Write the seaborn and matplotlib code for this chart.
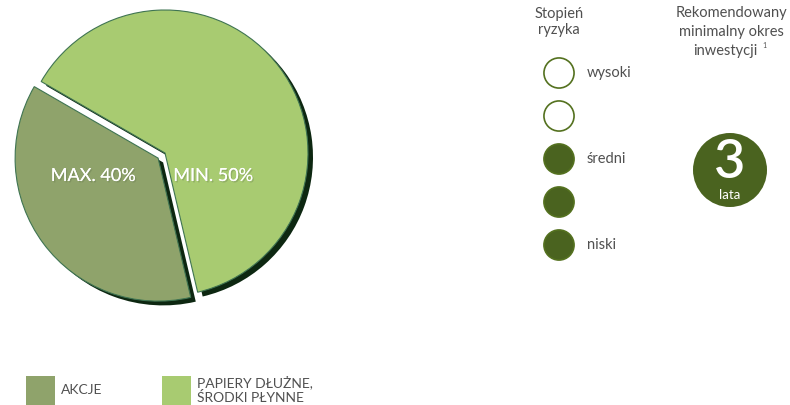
# Struktura portfela: udział akcji i papierów dłużnych + stopień ryzyka
import matplotlib
matplotlib.use('Agg')
import matplotlib.pyplot as plt
import matplotlib.patheffects as pe
import seaborn as sns
import pandas as pd

# Dane
share_names = ['AKCJE', 'PAPIERY DŁUŻNE,\nŚRODKI PŁYNNE']
share_values = [37, 63]
share_labels = ['MAX. 40%', 'MIN. 50%']
share_colors = ['#8fa36b', '#a8cb71']

risk_level = [5, 4, 3, 2, 1]
risk_filled = [False, False, True, True, True]
risk_names = ['wysoki', '', 'średni', '', 'niski']

horizon_years = 3
horizon_unit = 'lata'

sns.set_theme(style='white')
plt.rcParams['font.family'] = ['Lato', 'DejaVu Sans']
TXT = '#505050'
GREEN = '#4a631f'

W, H = 790, 405
fig = plt.figure(figsize=(W / 100, H / 100), dpi=100)
fig.patch.set_facecolor('white')

def px_axes(x0, y0, x1, y1):
    # axes z pikselowego prostokąta (y od góry)
    return fig.add_axes([x0 / W, 1 - y1 / H, (x1 - x0) / W, (y1 - y0) / H])

# pie
pax = px_axes(0, 0, 330, 320)
cx, cy, r = 165, 153, 143
pax.pie(share_values, colors=['#0d2711', '#0d2711'], startangle=150,
        explode=[0.06, 0], center=(0.035, -0.03),
        wedgeprops=dict(linewidth=0))
pax.pie(share_values, colors=share_colors, startangle=150,
        explode=[0.06, 0], wedgeprops=dict(linewidth=0.8, edgecolor='#3f7452'))
pax.set_xlim((0 - cx) / r, (330 - cx) / r)
pax.set_ylim((cy - 320) / r, (cy - 0) / r)
pax.set_aspect('auto')
pax.axis('off')

# nakładka w pikselach
ax = px_axes(0, 0, W, H)
ax.set_xlim(0, W)
ax.set_ylim(H, 0)
ax.axis('off')
ax.set_zorder(5)

shadow = [pe.withSimplePatchShadow(offset=(1, -1), shadow_rgbFace='#5a6b48', alpha=0.3), pe.Normal()]
for lab, x in zip(share_labels, [93, 213]):
    ax.text(x, 176, lab, color='white', fontsize=13, ha='center', va='center',
            path_effects=shadow)

# legenda
for name, col, x in zip(share_names, share_colors, [26, 162]):
    ax.add_patch(plt.Rectangle((x, 376), 29, 30, color=col, lw=0))
    ax.text(x + 35, 390, name, color=TXT, fontsize=10, ha='left', va='center',
            linespacing=1.15)

# stopień ryzyka
ax.text(559, 22, 'Stopień\nryzyka', color=TXT, fontsize=10.5, ha='center', va='center',
        linespacing=1.25)
rax = px_axes(530, 51.5, 650, 266.5)
risk_df = pd.DataFrame({'x': 29, 'level': risk_level, 'filled': risk_filled})
sns.scatterplot(data=risk_df, x='x', y='level', hue='filled',
                palette={True: GREEN, False: 'white'}, s=470,
                edgecolor='#54711f', linewidth=1.2, legend=False, ax=rax, zorder=3)
for lvl, name in zip(risk_level, risk_names):
    rax.text(57, lvl, name, color=TXT, fontsize=10.5, ha='left', va='center')
rax.set_xlim(0, 120)
rax.set_ylim(0.5, 5.5)
rax.axis('off')

# rekomendowany okres
ax.text(731, 13, 'Rekomendowany', color=TXT, fontsize=10.5, ha='center', va='center')
ax.text(731, 32, 'minimalny okres', color=TXT, fontsize=10.5, ha='center', va='center')
ax.text(725, 51, 'inwestycji', color=TXT, fontsize=10.5, ha='center', va='center')
ax.text(762, 46, '1', color=TXT, fontsize=5, ha='left', va='center')
ax.add_patch(plt.Circle((730, 170), 37, color=GREEN, lw=0))
ax.text(730, 162, str(horizon_years), color='white', fontsize=39, ha='center',
        va='center', fontweight='semibold')
ax.text(730, 195, horizon_unit, color='white', fontsize=9.5, ha='center',
        va='center')

fig.savefig('out.png', dpi=100, facecolor='white')
